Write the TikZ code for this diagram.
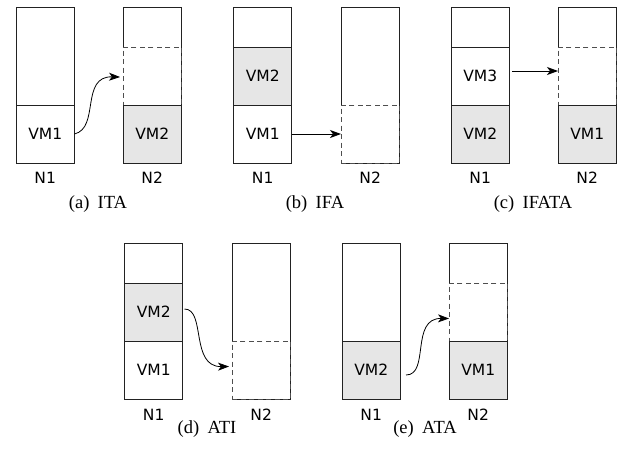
\documentclass[tikz,border=0pt]{standalone}
\usepackage{fontspec}
\setmainfont{Liberation Serif}
\setsansfont{DejaVu Sans}
\usetikzlibrary{arrows.meta,calc}
\definecolor{linec}{HTML}{222222}
\definecolor{vmgray}{HTML}{E6E6E6}
\tikzset{
  box/.style={draw=linec, line width=0.9pt, minimum width=58.4pt, minimum height=155.5pt, inner sep=0pt, outer sep=0pt, anchor=north west},
  slot/.style={draw=linec, line width=0.9pt, minimum width=58.4pt, minimum height=58pt, inner sep=0pt, outer sep=0pt, anchor=north west, font=\sffamily\fontsize{15.5}{15.5}\selectfont},
  vmg/.style={slot, fill=vmgray},
  vmw/.style={slot, fill=white},
  emptyslot/.style={slot, draw=linec!80, dash pattern=on 5pt off 3.5pt, fill=white},
  nlabel/.style={font=\sffamily\fontsize{15.5}{15.5}\selectfont, inner sep=0pt},
  captxt/.style={font=\fontsize{18.5}{18.5}\selectfont, inner sep=0pt},
  mig/.style={draw=black, line width=0.8pt, -{Stealth[length=11pt,width=8pt,inset=3pt]}}
}
\begin{document}
\begin{tikzpicture}[x=1pt,y=-1pt]
\useasboundingbox (0,0) rectangle (626,450);
% ---------------- (a) ITA
\node[box] (a1) at (16,7.5) {};
\node[vmw] (a1vm1) at (16,105) {VM1};
\node[box] (a2) at (123,7.5) {};
\node[emptyslot] (a2slot) at (123,47) {};
\node[vmg] (a2vm2) at (123,105) {VM2};
\node[nlabel] (a1n) at (45.2,178) {N1};
\node[nlabel] (a2n) at (152.2,178) {N2};
\node[captxt] (acap) at (98,204) {(a)\hspace{0.45em}ITA};
\coordinate (a2in) at (120,77);
\draw[mig] (a1vm1.east) .. controls (100,128) and (80,76) .. (a2in);
% ---------------- (b) IFA
\node[box] (b1) at (233.5,7.5) {};
\node[vmg] (b1vm2) at (233.5,47) {VM2};
\node[vmw] (b1vm1) at (233.5,105) {VM1};
\node[box] (b2) at (341,7.5) {};
\node[emptyslot] (b2slot) at (341,105) {};
\node[nlabel] (b1n) at (262.7,178) {N1};
\node[nlabel] (b2n) at (370.2,178) {N2};
\node[captxt] (bcap) at (315,204) {(b)\hspace{0.45em}IFA};
\draw[mig] (b1vm1.east) -- (b2slot.west);
% ---------------- (c) IFATA
\node[box] (c1) at (451,7.5) {};
\node[vmw] (c1vm3) at (451,47) {VM3};
\node[vmg] (c1vm2) at (451,105) {VM2};
\node[box] (c2) at (558,7.5) {};
\node[emptyslot] (c2slot) at (558,47) {};
\node[vmg] (c2vm1) at (558,105) {VM1};
\node[nlabel] (c1n) at (480.2,178) {N1};
\node[nlabel] (c2n) at (587.2,178) {N2};
\node[captxt] (ccap) at (533,204) {(c)\hspace{0.45em}IFATA};
\coordinate (c1out) at (512,71);
\coordinate (c2in) at (558,71);
\draw[mig] (c1out) -- (c2in);
% ---------------- (d) ATI
\node[box] (d1) at (124.5,243.5) {};
\node[vmg] (d1vm2) at (124.5,283) {VM2};
\node[vmw] (d1vm1) at (124.5,341) {VM1};
\node[box] (d2) at (232,243.5) {};
\node[emptyslot] (d2slot) at (232,341) {};
\node[nlabel] (d1n) at (153.7,414.5) {N1};
\node[nlabel] (d2n) at (261.2,414.5) {N2};
\node[captxt] (dcap) at (207,429.5) {(d)\hspace{0.45em}ATI};
\coordinate (d1out) at (184.5,309);
\coordinate (d2in) at (229,366.5);
\draw[mig] (d1out) .. controls (206,309) and (190,367) .. (d2in);
% ---------------- (e) ATA
\node[box] (e1) at (342,243.5) {};
\node[vmg] (e1vm2) at (342,341) {VM2};
\node[box] (e2) at (449,243.5) {};
\node[emptyslot] (e2slot) at (449,283) {};
\node[vmg] (e2vm1) at (449,341) {VM1};
\node[nlabel] (e1n) at (371.2,414.5) {N1};
\node[nlabel] (e2n) at (478.2,414.5) {N2};
\node[captxt] (ecap) at (425,429.5) {(e)\hspace{0.45em}ATA};
\coordinate (e1out) at (406,375);
\coordinate (e2in) at (449,318.5);
\draw[mig] (e1out) .. controls (430,375) and (410,318) .. (e2in);
\end{tikzpicture}
\end{document}
